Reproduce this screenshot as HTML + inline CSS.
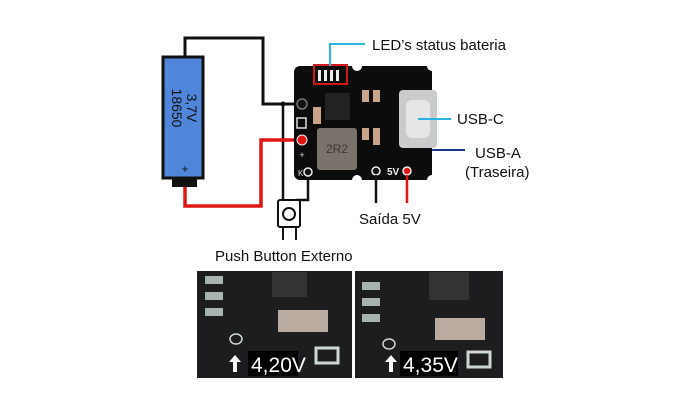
<!DOCTYPE html>
<html><head><meta charset="utf-8"><style>
html,body{margin:0;padding:0;background:#fff;}
svg{display:block;font-family:"Liberation Sans",Arial,sans-serif;}
</style></head><body>
<svg width="700" height="400" viewBox="0 0 700 400" xmlns="http://www.w3.org/2000/svg">
<rect width="700" height="400" fill="#fff"/>
<polyline points="185,57 185,38 263,38 263,104 302,104" fill="none" stroke="#111" stroke-width="3"/>
<polyline points="283,104 283,205" fill="none" stroke="#111" stroke-width="2.5"/>
<polyline points="308,172 308,200 296,200" fill="none" stroke="#111" stroke-width="2.5"/>
<polyline points="185,187 185,206 261,206 261,140 302,140" fill="none" stroke="#e01515" stroke-width="3.5"/>
<circle cx="283" cy="104" r="2.5" fill="#111"/>
<rect x="163" y="57" width="40" height="121" fill="#4f86d9" stroke="#111" stroke-width="3"/>
<rect x="172" y="178" width="25" height="9" fill="#111"/>
<text transform="translate(184,108) rotate(90)" text-anchor="middle" font-size="14" fill="#111"><tspan x="0" dy="-3">3,7V</tspan><tspan x="0" dy="15">18650</tspan></text>
<text x="185" y="173" text-anchor="middle" font-size="12" fill="#111">+</text>
<rect x="294" y="66" width="138" height="114" rx="6" fill="#0c0c0c"/>
<circle cx="357" cy="66" r="5" fill="#fff"/><circle cx="432" cy="66" r="5" fill="#fff"/>
<circle cx="357" cy="180" r="5" fill="#fff"/><circle cx="432" cy="180" r="5" fill="#fff"/>
<rect x="314" y="65" width="33" height="19" fill="none" stroke="#d01818" stroke-width="2"/>
<g fill="#eee"><rect x="318" y="70" width="3" height="11"/><rect x="324" y="70" width="3" height="11"/><rect x="330" y="70" width="3" height="11"/><rect x="336" y="70" width="3" height="11"/></g>
<rect x="325" y="93" width="25" height="27" fill="#222"/>
<rect x="313" y="107" width="8" height="17" fill="#c8a48a"/>
<rect x="317" y="128" width="40" height="42" rx="3" fill="#7a736c"/>
<text x="337" y="153" text-anchor="middle" font-size="12" fill="#3a3530">2R2</text>
<rect x="362" y="90" width="7" height="12" fill="#c8a48a"/><rect x="373" y="90" width="7" height="12" fill="#c8a48a"/>
<rect x="362" y="128" width="7" height="12" fill="#c8a48a"/><rect x="373" y="128" width="7" height="17" fill="#c8a48a"/>
<rect x="399" y="90" width="38" height="58" rx="4" fill="#c9cbcd"/>
<rect x="406" y="100" width="24" height="38" rx="6" fill="#e4e6e8"/>
<circle cx="302" cy="104" r="5" fill="#111" stroke="#777" stroke-width="1.5"/>
<rect x="297" y="118" width="9" height="10" fill="none" stroke="#ddd" stroke-width="1.5"/>
<circle cx="302" cy="140" r="5" fill="#e01515" stroke="#eee" stroke-width="1"/>
<text x="302" y="158" text-anchor="middle" font-size="9" fill="#ddd">+</text>
<circle cx="308" cy="172" r="4" fill="#111" stroke="#eee" stroke-width="1.5"/>
<text x="298" y="176" font-size="8" fill="#ddd">K</text>
<circle cx="376" cy="171" r="4" fill="#111" stroke="#eee" stroke-width="1.5"/>
<circle cx="407" cy="171" r="4" fill="#e01515" stroke="#eee" stroke-width="1.5"/>
<text x="387" y="175" font-size="10" font-weight="bold" fill="#eee">5V</text>
<polyline points="330,66 330,44 365,44" fill="none" stroke="#2bb3e6" stroke-width="2"/>
<text x="372" y="50" font-size="15" fill="#111">LED’s status bateria</text>
<line x1="418" y1="119" x2="451" y2="119" stroke="#2bb3e6" stroke-width="2"/>
<text x="457" y="124" font-size="15" fill="#111">USB-C</text>
<line x1="432" y1="150" x2="465" y2="150" stroke="#1a3c8a" stroke-width="2"/>
<text x="475" y="158" font-size="15" fill="#111">USB-A</text>
<text x="465" y="177" font-size="15" fill="#111">(Traseira)</text>
<line x1="376" y1="175" x2="376" y2="203" stroke="#111" stroke-width="2.5"/>
<line x1="407" y1="175" x2="407" y2="203" stroke="#e01515" stroke-width="2.5"/>
<text x="359" y="224" font-size="15" fill="#111">Saída 5V</text>
<rect x="278" y="200" width="22" height="27" rx="2" fill="#fff" stroke="#111" stroke-width="2"/>
<circle cx="289" cy="214" r="6" fill="none" stroke="#111" stroke-width="2"/>
<line x1="283" y1="227" x2="283" y2="240" stroke="#111" stroke-width="2"/>
<line x1="296" y1="227" x2="296" y2="240" stroke="#111" stroke-width="2"/>
<text x="215" y="261" font-size="15" fill="#111">Push Button Externo</text>
<rect x="197" y="271" width="155" height="107" fill="#1d1d1f"/>
<rect x="355" y="271" width="148" height="107" fill="#1d1d1f"/>
<g fill="#a9b3ad">
<rect x="205" y="276" width="18" height="8"/><rect x="205" y="292" width="18" height="8"/><rect x="205" y="308" width="18" height="8"/>
<rect x="362" y="282" width="18" height="8"/><rect x="362" y="298" width="18" height="8"/><rect x="362" y="314" width="18" height="8"/>
</g>
<rect x="272" y="272" width="35" height="25" fill="#333"/>
<rect x="278" y="310" width="50" height="22" fill="#b9ab9f"/>
<rect x="429" y="272" width="40" height="28" fill="#333"/>
<rect x="435" y="318" width="50" height="22" fill="#b9ab9f"/>
<ellipse cx="236" cy="339" rx="6" ry="5" fill="none" stroke="#cfd6d6" stroke-width="1.5"/>
<ellipse cx="389" cy="344" rx="6" ry="5" fill="none" stroke="#cfd6d6" stroke-width="1.5"/>
<rect x="316" y="348" width="22" height="15" fill="none" stroke="#cfd6d6" stroke-width="3"/>
<rect x="468" y="352" width="22" height="15" fill="none" stroke="#cfd6d6" stroke-width="3"/>
<rect x="248" y="351" width="50" height="25" fill="#000"/>
<text x="251" y="372" font-size="21" fill="#fff">4,20V</text>
<polygon points="235,355 241,362 237,362 237,372 233,372 233,362 229,362" fill="#fff"/>
<rect x="400" y="351" width="58" height="25" fill="#000"/>
<text x="403" y="372" font-size="21" fill="#fff">4,35V</text>
<polygon points="391,355 397,362 393,362 393,372 389,372 389,362 385,362" fill="#fff"/>
</svg>
</body></html>
